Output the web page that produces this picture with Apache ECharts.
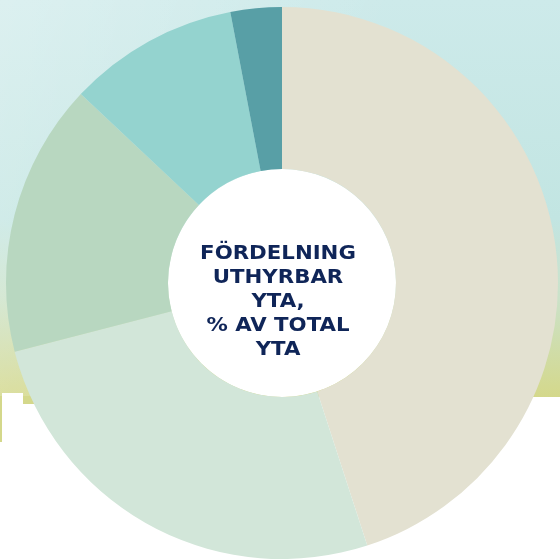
<!DOCTYPE html>
<html>
<head>
<meta charset="utf-8">
<script src="https://cdn.jsdelivr.net/npm/echarts@6/dist/echarts.min.js"></script>
<style>
  html, body { margin: 0; padding: 0; background: #fff; }
  #chart { width: 560px; height: 560px; }
</style>
</head>
<body>
<div id="chart"></div>
<script>
// andelar av total yta, medurs från kl 12
var segments = ['A', 'B', 'C', 'D', 'E']
var shares = [45, 26, 16, 10, 3]
var colors = ['#e3e1d1', '#d2e6d9', '#b8d7c0', '#94d3cf', '#589fa6']
var centerLines = ['FÖRDELNING', 'UTHYRBAR', 'YTA,', '% AV TOTAL', 'YTA']

var myChart = echarts.init(document.getElementById('chart'))

var pieData = segments.map(function (name, i) {
  return { name: name, value: shares[i], itemStyle: { color: colors[i] } }
})

var option = {
  animation: false,
  graphic: [
    // bakgrund (toning turkos -> gulgrön)
    {
      type: 'rect', z: -10, silent: true,
      shape: { x: 0, y: 0, width: 560, height: 397 },
      style: {
        fill: new echarts.graphic.LinearGradient(0, 0, 0, 1, [
          { offset: 0, color: '#cdeaea' },
          { offset: 0.55, color: '#c2e5e2' },
          { offset: 0.75, color: '#cbe2c9' },
          { offset: 1, color: '#d4d88b' }
        ])
      }
    },
    {
      type: 'rect', z: -9, silent: true,
      shape: { x: 0, y: 0, width: 560, height: 397 },
      style: {
        fill: new echarts.graphic.LinearGradient(0, 0, 1, 0.6, [
          { offset: 0, color: 'rgba(255,255,255,0.3)' },
          { offset: 0.6, color: 'rgba(255,255,255,0)' }
        ])
      }
    },
    { type: 'rect', z: -8, silent: true, shape: { x: 2, y: 393, width: 21, height: 4 }, style: { fill: '#fff' } },
    { type: 'rect', z: -8, silent: true, shape: { x: 23, y: 396, width: 20, height: 8 }, style: { fill: '#d4d88b' } },
    { type: 'rect', z: -8, silent: true, shape: { x: 0, y: 396, width: 2, height: 46 }, style: { fill: '#d4d88b' } },
    // vit mitt
    {
      type: 'circle', z: -5, silent: true,
      shape: { cx: 282, cy: 283, r: 114 },
      style: { fill: '#ffffff' }
    },
    {
      type: 'text', z: 10, silent: true,
      x: 278, y: 302, scaleX: 1.12,
      style: {
        text: centerLines.join('\n'),
        fill: '#0f2558',
        font: 'bold 19px "DejaVu Sans"',
        lineHeight: 24,
        align: 'center',
        verticalAlign: 'middle'
      }
    }
  ],
  series: [
    {
      type: 'pie',
      center: [282, 283],
      radius: [114, 276],
      startAngle: 90,
      clockwise: true,
      label: { show: false },
      labelLine: { show: false },
      emphasis: { disabled: true },
      itemStyle: { borderWidth: 0 },
      data: pieData
    }
  ]
}

myChart.setOption(option)
</script>
</body>
</html>
